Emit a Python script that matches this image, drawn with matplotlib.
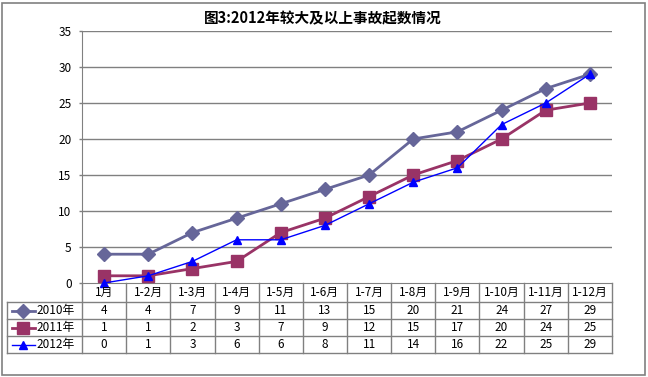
import matplotlib
matplotlib.use("Agg")
import matplotlib.pyplot as plt
from matplotlib.transforms import blended_transform_factory
from matplotlib.lines import Line2D
from matplotlib.patches import Rectangle

plt.rcParams['font.family'] = ['Noto Sans CJK SC', 'DejaVu Sans']

# data
months = ["1月", "1-2月", "1-3月", "1-4月", "1-5月", "1-6月",
          "1-7月", "1-8月", "1-9月", "1-10月", "1-11月", "1-12月"]
s2010 = [4, 4, 7, 9, 11, 13, 15, 20, 21, 24, 27, 29]
s2011 = [1, 1, 2, 3, 7, 9, 12, 15, 17, 20, 24, 25]
s2012 = [0, 1, 3, 6, 6, 8, 11, 14, 16, 22, 25, 29]
series_names = ["2010年", "2011年", "2012年"]
title = "图3:2012年较大及以上事故起数情况"
yticks = [0, 5, 10, 15, 20, 25, 30, 35]

styles = [
    dict(color="#666699", marker="D", markersize=7, lw=2.0),
    dict(color="#993366", marker="s", markersize=8, lw=2.0),
    dict(color="#0000FF", marker="^", markersize=6, lw=1.0),
]

W, H = 648, 377
fig = plt.figure(figsize=(W / 100, H / 100), dpi=100)
grid_c = "#808080"

# outer frame
fig.patches.append(Rectangle((2 / W, 2 / H), 643 / W, 372 / H, transform=fig.transFigure,
                             fill=False, edgecolor=grid_c, lw=1.2))

ax = fig.add_axes([82 / W, 1 - 283 / H, 530 / W, 252 / H])
x = list(range(len(months)))
for vals, st in zip([s2010, s2011, s2012], styles):
    ax.plot(x, vals, color=st["color"], lw=st["lw"], marker=st["marker"],
            markersize=st["markersize"], markeredgecolor=st["color"], clip_on=False, zorder=3)

ax.set_xlim(-0.5, len(months) - 0.5)
ax.set_ylim(0, 35)
ax.set_yticks(yticks)
ax.set_xticks([])
ax.tick_params(axis="y", length=2.5, width=1, color=grid_c, labelsize=8.5, pad=5)
for t in yticks[1:]:
    ax.axhline(t, color=grid_c, lw=1.0, zorder=1)
for side in ["top", "right"]:
    ax.spines[side].set_visible(False)
ax.spines["left"].set_color(grid_c)
ax.spines["bottom"].set_color(grid_c)

fig.text(323 / W, 1 - 18 / H, title, ha="center", va="center", fontsize=10.5, fontweight="bold")

# data table under the axis
tr = blended_transform_factory(ax.transData, ax.transAxes)
px = 1 / 252.0
rows_y = [0, -19 * px, -36 * px, -53 * px, -70 * px]
x_left = -0.5 - 75 / (530 / 12)
n = len(months)
lk = dict(color=grid_c, lw=1.0, transform=tr, clip_on=False)

# vertical lines of header row
for i in range(n + 1):
    ax.add_line(Line2D([i - 0.5, i - 0.5], [rows_y[0], rows_y[-1]], **lk))
ax.add_line(Line2D([x_left, x_left], [rows_y[1], rows_y[-1]], **lk))
for yy in rows_y[1:]:
    ax.add_line(Line2D([x_left, n - 0.5], [yy, yy], **lk))

for i, m in enumerate(months):
    ax.text(i, (rows_y[0] + rows_y[1]) / 2, m, transform=tr, ha="center", va="center", fontsize=8.5)

for r, (vals, name, st) in enumerate(zip([s2010, s2011, s2012], series_names, styles)):
    yc = (rows_y[r + 1] + rows_y[r + 2]) / 2
    for i, v in enumerate(vals):
        ax.text(i, yc, str(v), transform=tr, ha="center", va="center", fontsize=8.5)
    # legend key
    fx0, fx1 = 12 / W, 35 / W
    fy = 1 - (302 + 17 * r + 8.5) / H
    fig.add_artist(Line2D([fx0, fx1], [fy, fy], color=st["color"], lw=st["lw"],
                          transform=fig.transFigure))
    fig.add_artist(Line2D([23 / W], [fy], color=st["color"], marker=st["marker"],
                          markersize=st["markersize"], markeredgecolor=st["color"],
                          transform=fig.transFigure))
    fig.text(36 / W, fy, name, ha="left", va="center", fontsize=8.5)

fig.savefig("out.png", dpi=100)
